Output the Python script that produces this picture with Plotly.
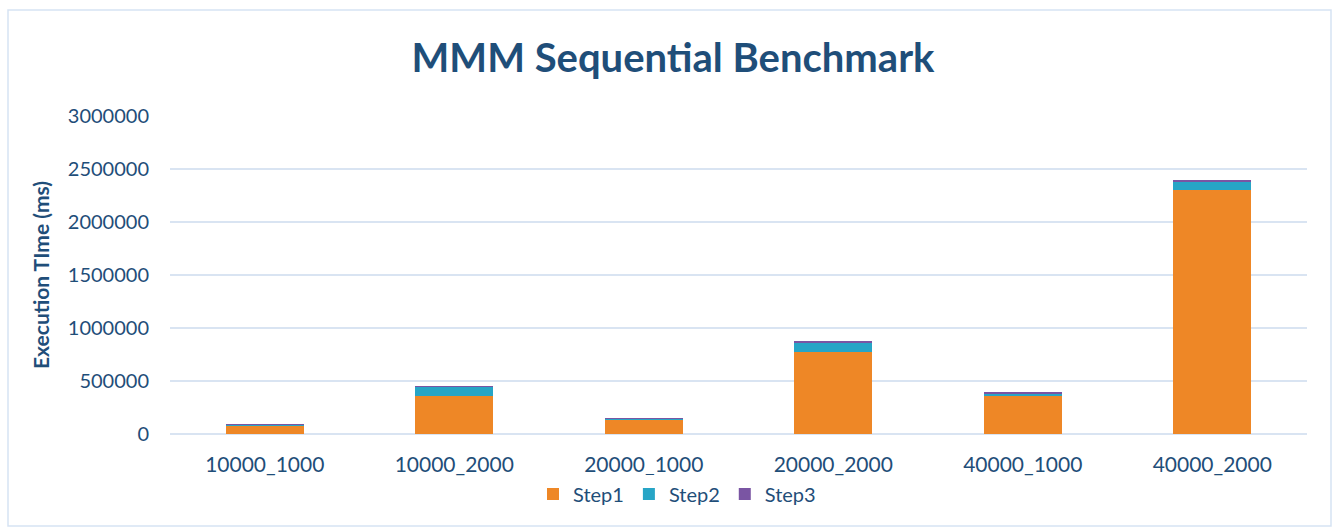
import plotly.graph_objects as go

categories = ["10000_1000", "10000_2000", "20000_1000", "20000_2000", "40000_1000", "40000_2000"]
step1 = [80000, 360000, 135000, 775000, 365000, 2300000]
step2 = [8000, 85000, 7000, 90000, 15000, 85000]
step3 = [6000, 3000, 1000, 8000, 8000, 12000]
y_ticks = [0, 500000, 1000000, 1500000, 2000000, 2500000, 3000000]

text_color = "#1F4E79"
grid_color = "#D9E4F2"
font_family = "Lato, Open Sans, Liberation Sans, sans-serif"

fig = go.Figure()
fig.add_bar(name="Step1", x=categories, y=step1, marker=dict(color="#EE8726", line=dict(width=0)))
fig.add_bar(name="Step2", x=categories, y=step2, marker=dict(color="#27A5C6", line=dict(width=0)))
fig.add_bar(name="Step3", x=categories, y=step3, marker=dict(color="#7A55A3", line=dict(width=0)))

W, H = 1340, 529
ml, mr, mt, mb = 170, 33, 116, 95
pw, ph = W - ml - mr, H - mt - mb

def px_x(p):
    return (p - ml) / pw

def px_y(p):
    return 1 - (p - mt) / ph

fig.update_layout(
    width=W, height=H,
    barmode="stack",
    bargap=0.59,
    margin=dict(l=ml, r=mr, t=mt, b=mb, autoexpand=False),
    paper_bgcolor="white",
    plot_bgcolor="white",
    font=dict(family=font_family, color=text_color, size=20),
    title=dict(
        text="<b>MMM Sequential Benchmark</b>",
        x=673 / W, xref="container", xanchor="center",
        y=1 - 58 / H, yref="container", yanchor="middle",
        font=dict(size=40, color=text_color, family=font_family),
    ),
    xaxis=dict(
        showgrid=False, showline=False, ticks="",
        tickangle=0,
        tickfont=dict(size=21, color=text_color),
        ticklabelstandoff=16,
    ),
    yaxis=dict(
        range=[0, 3000000],
        tickvals=y_ticks,
        ticktext=[str(v) for v in y_ticks],
        showgrid=True, gridcolor=grid_color, gridwidth=1.5,
        zeroline=True, zerolinecolor=grid_color, zerolinewidth=2,
        showline=False, ticks="",
        tickfont=dict(size=20, color=text_color),
        ticklabelstandoff=20,
        title=dict(text="<b>Execution TIme (ms)</b>", font=dict(size=21, color=text_color), standoff=12),
    ),
    legend=dict(
        orientation="h", x=px_x(677), xanchor="center",
        y=px_y(494), yanchor="middle",
        font=dict(size=20, color=text_color),
        traceorder="normal",
        itemwidth=30,
    ),
    shapes=[
        dict(type="rect", xref="paper", yref="paper",
             x0=px_x(8), x1=px_x(1331), y0=px_y(526), y1=px_y(10),
             line=dict(color="#D6E3F3", width=1.5), fillcolor="rgba(0,0,0,0)", layer="below"),
    ],
)

fig.write_html("out.html")
